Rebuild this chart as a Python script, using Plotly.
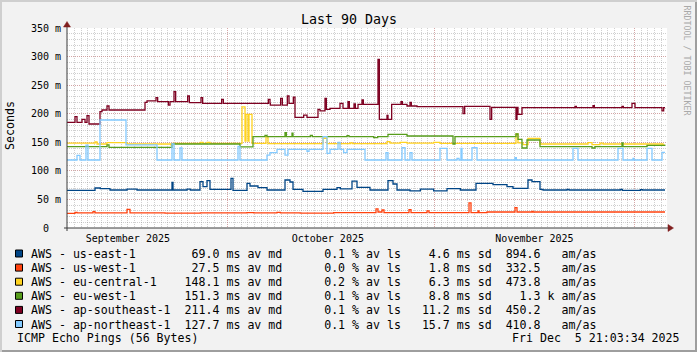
import plotly.graph_objects as go
from datetime import datetime, timedelta

# ---------------- data ----------------
START = datetime(2025, 9, 6, 21, 3, 34)
END = START + timedelta(days=90)

names = ["AWS - us-east-1", "AWS - us-west-1", "AWS - eu-central-1",
         "AWS - eu-west-1", "AWS - ap-southeast-1", "AWS - ap-northeast-1"]
colors = ["#004586", "#ff420e", "#ffd320", "#579d1c", "#7e0021", "#83caff"]
median_ms = [69.0, 27.5, 148.1, 151.3, 211.4, 127.7]
loss_pct = [0.1, 0.0, 0.2, 0.1, 0.1, 0.1]
sd_ms = [4.6, 1.8, 6.3, 8.8, 11.2, 15.7]
amas_val = [894.6, 332.5, 473.8, 1.3, 450.2, 410.8]
amas_unit = ["", "", "", "k", "", ""]

month_starts = ["2025-10-01", "2025-11-01", "2025-12-01"]
month_label_pos = ["2025-09-16", "2025-10-16", "2025-11-16"]
month_labels = ["September 2025", "October 2025", "November 2025"]
y_tickvals = [0, 50, 100, 150, 200, 250, 300, 350]
y_ticktext = ["0  ", "50 m", "100 m", "150 m", "200 m", "250 m", "300 m", "350 m"]

# step series: days since START, value in ms
us_east_days = [0, 4.2, 5.0, 6.45, 9.0, 10.5, 15.75, 15.9, 18.0, 18.5, 19.95, 20.4, 21.0, 21.45,
                24.6, 24.9, 27.0, 27.45, 28.65, 30.0, 32.7, 33.45, 33.9, 35.4, 38.4, 40.5, 41.0,
                42.75, 43.5, 45.45, 48.15, 48.9, 49.5, 51.45, 53.0, 55.0, 57.0, 59.0, 61.35, 63.9,
                66.0, 66.9, 69.15, 69.75, 70.95, 71.4, 75.0, 75.3, 83.0, 83.3, 86.0, 86.3, 89.7]
us_east_ms = [66, 70, 69, 66.5, 68, 66.5, 80, 66.5, 68, 66.5, 81, 72.3, 82.8, 67.7,
              87, 66, 78, 73.5, 70.6, 66.5, 84, 80.5, 67.7, 64.2, 67.7, 70.6, 68.5,
              82, 71.2, 66.5, 82.8, 77, 66.5, 65, 68, 65, 69, 66.5, 78, 75.8,
              72.3, 69.4, 84, 81, 67.5, 66.5, 67.5, 66.5, 67.5, 66.0, 67.0, 66.5, 66.5]

us_west_days = [0, 1.2, 1.5, 3.9, 4.2, 9.0, 9.45, 14.7, 20.0, 27.0, 28.0, 31.5, 32.0, 35.0, 40.0,
                46.35, 46.65, 47.25, 47.55, 51.3, 51.6, 54.0, 54.3, 60.3, 60.6, 61.65, 61.8, 63.0,
                67.2, 67.5, 69.75, 69.9, 89.7]
us_west_ms = [25.5, 27.5, 26.5, 28.5, 26.5, 32.5, 26.5, 26.0, 26.5, 27.0, 26.5, 27.2, 26.5, 26.0, 26.8,
              33.5, 28.0, 31.5, 26.8, 32.0, 26.8, 30.0, 26.8, 44.0, 26.8, 30.0, 26.8, 28.0,
              35.5, 28.0, 29.0, 28.0, 28.0]

eu_central_days = [0, 4.2, 4.5, 6.0, 9.0, 14.1, 15.6, 15.9, 20.0, 20.4, 21.0, 21.45,
                   26.25, 26.7, 26.85, 27.15, 27.3, 27.75, 29.85, 30.15, 38.4, 39.0, 42.5, 42.8,
                   48.0, 48.45, 50.0, 51.0, 55.0, 55.95, 67.35, 67.65, 68.4, 69.15, 70.95,
                   78.15, 78.75, 79.95, 80.4, 89.4, 89.7]
eu_central_ms = [148.5, 150.5, 147, 149.3, 147, 147, 145, 148, 150, 148, 150, 148,
                 212, 152, 199, 152, 199, 148, 160, 147.5, 157, 147.5, 149, 147.5,
                 151, 148.5, 150, 148.5, 150, 148, 164.5, 149, 146, 157, 147,
                 149.5, 146, 148.5, 147, 145, 145]

eu_west_days = [0, 6.0, 6.3, 15.75, 25.95, 27.9, 29.7, 30.0, 32.7, 32.9, 33.75, 33.9, 36.5, 36.8,
                42.0, 42.3, 46.0, 46.6, 48.15, 51.0, 57.9, 58.2, 67.35, 67.65, 68.25, 69.0, 70.95,
                78.75, 79.2, 83.25, 83.4, 87.0, 89.7]
eu_west_ms = [142.3, 145.5, 141.2, 147, 142, 159.8, 162, 159.8, 167, 159.8, 166, 159.8, 162, 159.8,
              161.5, 159.8, 158, 159.8, 164, 161, 147, 160, 164.5, 155, 140, 154, 142.3,
              140, 142.3, 149, 142.3, 144.5, 144]

ap_southeast_days = [0, 1.2, 1.5, 2.25, 2.7, 3.0, 3.3, 4.95, 5.25, 6.0, 6.3, 11.7, 12.0, 13.35,
                     13.6, 15.2, 15.45, 16.05, 16.3, 18.1, 18.35, 20.1, 20.35, 23.2, 23.45,
                     30.2, 30.45, 30.5, 32.05, 32.3, 33.05, 33.3, 33.95, 34.2, 35.5, 36.0,
                     37.65, 37.95, 38.7, 38.9, 39.45, 40.95, 41.4, 42.15, 42.35, 43.05, 43.25,
                     43.65, 44.25, 44.45, 46.65, 46.85, 48.0, 48.15, 48.7, 50.1, 50.3, 51.0,
                     51.45, 51.65, 52.5, 59.4, 59.65, 63.45, 63.7, 67.35, 67.5, 67.65, 68.25,
                     76.2, 76.4, 78.9, 79.1, 83.25, 83.45, 84.75, 85.2, 89.25, 89.5, 89.7]
ap_southeast_ms = [185, 195, 185, 190, 185, 196.6, 182, 203.5, 206.5, 213.5, 206.5, 220, 222.5, 228,
                   221, 215, 221, 238.5, 221, 231, 219.3, 228, 218.2, 225, 218.2,
                   225, 218, 215, 227, 215, 231, 218, 229, 193.7, 197.7, 193.7,
                   207.7, 205, 227, 207.7, 209.4, 218, 209.4, 221, 209.4, 217, 209.4,
                   216.4, 224, 216.4, 295, 190, 197, 190, 216.4, 221, 216.4, 213.5,
                   220, 213.5, 212.3, 200, 213, 190, 211, 190, 211, 199, 210.6,
                   213, 210.6, 214, 210.6, 213, 210.6, 218, 210.6, 205, 210.6, 210.6]

ap_northeast_days = [0, 1.5, 1.95, 2.85, 3.15, 4.95, 8.85, 13.5, 15.75, 16.05, 16.95, 17.25,
                     25.65, 25.95, 30.0, 30.45, 31.5, 32.7, 33.15, 36.0, 36.3, 38.4, 39.0, 39.45,
                     40.65, 40.95, 41.5, 42.0, 44.7, 47.85, 48.15, 50.25, 50.7, 51.45, 51.75,
                     55.95, 57.0, 58.5, 58.8, 59.1, 59.25, 60.75, 61.5, 67.2, 67.4, 75.9, 76.65,
                     82.65, 83.4, 84.9, 85.05, 87.0, 87.75, 89.25, 89.7]
ap_northeast_ms = [119, 127, 119, 145, 119, 189, 145.5, 119, 147, 119, 140, 119,
                   143, 119, 127.7, 131.8, 137.7, 127.7, 137.7, 134, 137.7, 159.8, 130.7, 137.7,
                   150, 137.7, 132, 137.7, 119, 131.8, 119, 140.6, 119, 131.8, 119,
                   139.4, 119, 122, 119, 139.4, 119, 140.6, 119, 123, 119, 139.4, 119,
                   139.4, 119, 122, 119, 139.4, 119, 132.4, 132.4]

series_days = [us_east_days, us_west_days, eu_central_days, eu_west_days, ap_southeast_days, ap_northeast_days]
series_ms = [us_east_ms, us_west_ms, eu_central_ms, eu_west_ms, ap_southeast_ms, ap_northeast_ms]

title = "Last 90 Days"
y_title = "Seconds"
footer = "ICMP Echo Pings (56 Bytes)"
stamp = "Fri Dec  5 21:03:34 2025"
watermark = "RRDTOOL / TOBI OETIKER"

# ---------------- layout geometry ----------------
W, H = 697, 352
PL, PR, PT, PB = 67, 667, 28, 228
MONO = "DejaVu Sans Mono"
GRID = "rgba(143,143,143,0.42)"
MGRID = "rgba(222,79,79,0.32)"
AXIS = "#3a3a3a"
ARROW = "#801F1F"


def px(x):
    return (x - PL) / (PR - PL)


def py(y):
    return (PB - y) / (PB - PT)


def nb(s):
    return s.replace(" ", "\u00a0")


fig = go.Figure()
for d, v, c in zip(series_days, series_ms, colors):
    fig.add_trace(go.Scatter(
        x=[START + timedelta(days=t) for t in d], y=v, mode="lines",
        line=dict(color=c, width=1.3, shape="hv"), hoverinfo="skip", showlegend=False))
# anchor trace for label axis
fig.add_trace(go.Scatter(x=[START, END], y=[None, None], xaxis="x2", yaxis="y",
                         mode="lines", showlegend=False, hoverinfo="skip"))

fig.update_layout(
    width=W, height=H,
    margin=dict(l=PL, r=W - PR, t=PT, b=H - PB, pad=0),
    paper_bgcolor="#F2F2F2", plot_bgcolor="#FFFFFF",
    showlegend=False,
    font=dict(family=MONO, size=10, color="#000000"),
    xaxis=dict(type="date", range=[START, END], tickmode="array", tickvals=month_starts,
               showticklabels=False, ticks="", showgrid=True, gridcolor=MGRID,
               griddash="1px,1px", gridwidth=1, zeroline=False, showline=False,
               minor=dict(tickmode="linear", tick0="2025-09-01", dtick=86400000,
                          showgrid=True, gridcolor=GRID, griddash="1px,1px", gridwidth=1, ticks="")),
    xaxis2=dict(type="date", range=[START, END], overlaying="x", anchor="y", side="bottom",
                tickmode="array", tickvals=month_label_pos, ticktext=month_labels,
                showgrid=False, zeroline=False, showline=False, ticks="",
                tickfont=dict(family=MONO, size=10, color="#000"), ticklabelstandoff=3),
    yaxis=dict(range=[0, 350], tickmode="array", tickvals=y_tickvals,
               ticktext=[nb(t) for t in y_ticktext], showgrid=True, gridcolor=MGRID,
               griddash="1px,1px", gridwidth=1, zeroline=False, showline=False, ticks="",
               tickfont=dict(family=MONO, size=10, color="#000"), ticklabelstandoff=5,
               minor=dict(tickmode="linear", tick0=0, dtick=10, showgrid=True,
                          gridcolor=GRID, griddash="1px,1px", gridwidth=1, ticks="")),
)

shapes = []
# 3d border
shapes.append(dict(type="rect", xref="paper", yref="paper", x0=px(0), x1=px(W), y0=py(0), y1=py(2),
                   fillcolor="#CFCFCF", line=dict(width=0), layer="above"))
shapes.append(dict(type="rect", xref="paper", yref="paper", x0=px(0), x1=px(2), y0=py(0), y1=py(H),
                   fillcolor="#CFCFCF", line=dict(width=0), layer="above"))
shapes.append(dict(type="rect", xref="paper", yref="paper", x0=px(2), x1=px(W), y0=py(H - 2), y1=py(H),
                   fillcolor="#9E9E9E", line=dict(width=0), layer="above"))
shapes.append(dict(type="rect", xref="paper", yref="paper", x0=px(W - 2), x1=px(W), y0=py(2), y1=py(H),
                   fillcolor="#9E9E9E", line=dict(width=0), layer="above"))
# axes
shapes.append(dict(type="line", xref="paper", yref="paper", x0=px(64), x1=px(669), y0=py(228), y1=py(228),
                   line=dict(color=AXIS, width=1), layer="above"))
shapes.append(dict(type="line", xref="paper", yref="paper", x0=px(67), x1=px(67), y0=py(231), y1=py(25),
                   line=dict(color=AXIS, width=1), layer="above"))
shapes.append(dict(type="path", xref="paper", yref="paper",
                   path=f"M {px(668)} {py(224.5)} L {px(673.5)} {py(228)} L {px(668)} {py(231.5)} Z",
                   fillcolor=ARROW, line=dict(color=ARROW, width=0.5), layer="above"))
shapes.append(dict(type="path", xref="paper", yref="paper",
                   path=f"M {px(63.5)} {py(27)} L {px(67)} {py(21.5)} L {px(70.5)} {py(27)} Z",
                   fillcolor=ARROW, line=dict(color=ARROW, width=0.5), layer="above"))

annotations = []
annotations.append(dict(text=title, xref="paper", yref="paper", x=px(348.5), y=py(19),
                        xanchor="center", yanchor="middle", showarrow=False,
                        font=dict(family=MONO, size=13.3, color="#000")))
annotations.append(dict(text=y_title, xref="paper", yref="paper", x=px(10), y=py(126),
                        xanchor="center", yanchor="middle", showarrow=False, textangle=-90,
                        font=dict(family=MONO, size=11.6, color="#000")))
annotations.append(dict(text=watermark, xref="paper", yref="paper", x=px(686.5), y=py(60),
                        xanchor="center", yanchor="middle", showarrow=False, textangle=90,
                        font=dict(family=MONO, size=8.3, color="#A9A9A9")))

ROW0 = 254.0
ROWH = 14.1
for i, (n, c, m, l, s, a, u) in enumerate(zip(names, colors, median_ms, loss_pct, sd_ms, amas_val, amas_unit)):
    yc = ROW0 + i * ROWH
    row = f"{n:<22}{m:5.1f} ms av md    {l:5.1f} % av ls  {s:5.1f} ms sd  {a:5.1f} {u:1} am/as"
    annotations.append(dict(text=nb(row), xref="paper", yref="paper", x=px(29), y=py(yc),
                            xanchor="left", yanchor="middle", showarrow=False,
                            font=dict(family=MONO, size=11.6, color="#000")))
    shapes.append(dict(type="rect", xref="paper", yref="paper", x0=px(15.5), x1=px(22.5),
                       y0=py(yc - 4), y1=py(yc + 3), fillcolor=c,
                       line=dict(color="#000", width=1), layer="above"))

annotations.append(dict(text=nb(footer), xref="paper", yref="paper", x=px(15), y=py(338),
                        xanchor="left", yanchor="middle", showarrow=False,
                        font=dict(family=MONO, size=11.6, color="#000")))
annotations.append(dict(text=nb(stamp), xref="paper", yref="paper", x=px(681.5), y=py(338),
                        xanchor="right", yanchor="middle", showarrow=False,
                        font=dict(family=MONO, size=11.6, color="#000")))

fig.update_layout(shapes=shapes, annotations=annotations)
fig.write_html("out.html")
